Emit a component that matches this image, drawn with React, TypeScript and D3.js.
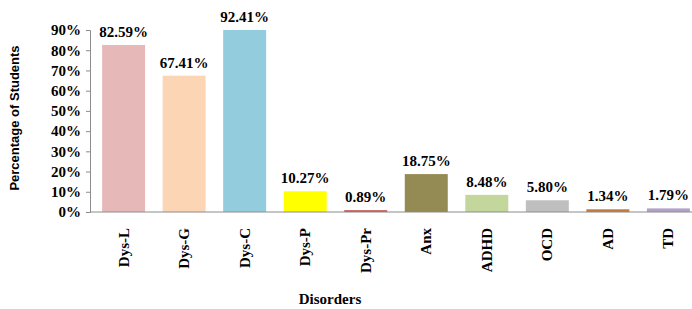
import { useEffect, useRef } from "react";
import * as d3 from "d3";

const categories = ["Dys-L", "Dys-G", "Dys-C", "Dys-P", "Dys-Pr", "Anx", "ADHD", "OCD", "AD", "TD"];
const values = [82.59, 67.41, 92.41, 10.27, 0.89, 18.75, 8.48, 5.8, 1.34, 1.79];
const colors = ["#e6b9b8", "#fcd5b5", "#93cddd", "#ffff00", "#c0504d", "#948a54", "#c3d69b", "#bfbfbf", "#c27b3e", "#b3a2c7"];
const yTicks = [0, 10, 20, 30, 40, 50, 60, 70, 80, 90];

const App: React.FC = () => {
  const ref = useRef<SVGSVGElement>(null);

  useEffect(() => {
    const width = 692;
    const height = 309;
    const font = "'Liberation Serif', 'Times New Roman', serif";

    const svg = d3.select(ref.current);
    svg.selectAll("*").remove();
    svg.attr("width", width).attr("height", height);

    // x 스케일
    const x = d3.scaleBand<string>()
      .domain(categories)
      .range([90, 702])
      .paddingInner(0.29)
      .paddingOuter(0.2);

    // y 스케일 (90%에서 잘림)
    const y = d3.scaleLinear()
      .domain([0, 90])
      .range([212, 30])
      .clamp(true);

    // 막대
    svg.append("g")
      .selectAll("rect")
      .data(values)
      .join("rect")
      .attr("x", (_, i) => x(categories[i]) as number)
      .attr("y", d => y(d))
      .attr("width", x.bandwidth())
      .attr("height", d => y(0) - y(d))
      .attr("fill", (_, i) => colors[i]);

    // 값 라벨
    svg.append("g")
      .selectAll("text")
      .data(values)
      .join("text")
      .attr("x", (_, i) => (x(categories[i]) as number) + x.bandwidth() / 2)
      .attr("y", d => y(d) - 8)
      .attr("text-anchor", "middle")
      .attr("font-family", font)
      .attr("font-weight", "bold")
      .attr("font-size", 15)
      .text(d => d.toFixed(2) + "%");

    // y 축
    const yAxis = svg.append("g")
      .attr("transform", "translate(90,0)")
      .call(d3.axisLeft(y).tickValues(yTicks).tickSize(4).tickFormat(d => d + "%"));
    yAxis.select(".domain").attr("stroke", "#8c8c8c");
    yAxis.selectAll(".tick line").attr("stroke", "#8c8c8c");
    yAxis.selectAll(".tick text")
      .attr("x", -9)
      .attr("fill", "#000")
      .attr("font-family", font)
      .attr("font-weight", "bold")
      .attr("font-size", 15);

    // x 축 선
    svg.append("line")
      .attr("x1", 90)
      .attr("x2", width)
      .attr("y1", y(0))
      .attr("y2", y(0))
      .attr("stroke", "#8c8c8c");

    // x 라벨 (세로)
    svg.append("g")
      .selectAll("text")
      .data(categories)
      .join("text")
      .attr("transform", d => `translate(${(x(d) as number) + x.bandwidth() / 2 + 5},228) rotate(-90)`)
      .attr("text-anchor", "end")
      .attr("font-family", font)
      .attr("font-weight", "bold")
      .attr("font-size", 15)
      .text(d => d);

    // 축 제목
    svg.append("text")
      .attr("transform", "translate(19,118) rotate(-90)")
      .attr("text-anchor", "middle")
      .attr("font-family", "'Liberation Sans', Arial, sans-serif")
      .attr("font-weight", "bold")
      .attr("font-size", 13)
      .text("Percentage of Students");

    svg.append("text")
      .attr("x", 330)
      .attr("y", 304)
      .attr("text-anchor", "middle")
      .attr("font-family", font)
      .attr("font-weight", "bold")
      .attr("font-size", 15)
      .text("Disorders");
  }, []);

  return <svg ref={ref} style={{ position: "absolute", left: 0, top: 0 }} />;
};

export default App;
